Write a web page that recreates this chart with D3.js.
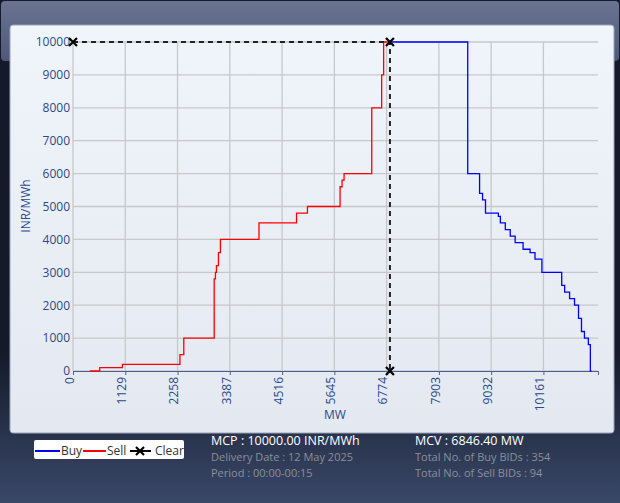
<!DOCTYPE html><html><head><meta charset="utf-8">
<script src="https://cdn.jsdelivr.net/npm/d3@7"></script>
<style>body{margin:0;background:#141a2a;font-family:"Open Sans",sans-serif}</style></head><body>
<svg id="c" width="620" height="503"></svg>
<script>
const xTicks=[0,1129,2258,3387,4516,5645,6774,7903,9032,10161];
const yTicks=[0,1000,2000,3000,4000,5000,6000,7000,8000,9000,10000];
const sellMW=[363,577,1068,2286,2310,2393,3034,3050,3077,3098,3141,3184,3205,4017,4829,5064,5769,5812,5855,6453,6667,6710,6846];
const sellP=[0,100,200,200,500,1000,1000,2800,3000,3200,3600,4000,4000,4500,4800,5000,5600,5800,6000,8000,9000,10000,10000];
const buyMW=[6846,8526,8782,8846,8910,9188,9231,9338,9444,9551,9722,9872,9979,10128,10235,10556,10620,10726,10833,10919,10983,11047,11132,11175,11197];
const buyP=[10000,6000,5400,5200,4800,4700,4500,4300,4100,3900,3700,3600,3400,3000,3000,2600,2400,2200,2000,1600,1200,1000,800,0,0];
const clearMW=[0,6846,6846], clearP=[10000,10000,0];
const svg=d3.select("#c");
const defs=svg.append("defs");
const g1=defs.append("linearGradient").attr("id","top").attr("x1",0).attr("y1",0).attr("x2",0).attr("y2",1);
g1.append("stop").attr("offset",0).attr("stop-color","#6a7390");g1.append("stop").attr("offset",1).attr("stop-color","#4f5878");
const g2=defs.append("linearGradient").attr("id","pan").attr("x1",0).attr("y1",0).attr("x2",0).attr("y2",1);
g2.append("stop").attr("offset",0).attr("stop-color","#f0f4fb");g2.append("stop").attr("offset",1).attr("stop-color","#e4e8f0");
const g3=defs.append("linearGradient").attr("id","bot").attr("x1",0).attr("y1",0).attr("x2",0).attr("y2",1);
g3.append("stop").attr("offset",0).attr("stop-color","#141a2a");g3.append("stop").attr("offset",0.7).attr("stop-color","#141a2a");g3.append("stop").attr("offset",1).attr("stop-color","#3a4868");
svg.append("rect").attr("x",0).attr("y",0).attr("width",620).attr("height",503).attr("fill","url(#bot)");
svg.append("rect").attr("x",1).attr("y",1).attr("width",618).attr("height",60).attr("fill","url(#top)").attr("rx",4);
svg.append("rect").attr("x",10).attr("y",25).attr("width",604).attr("height",408).attr("fill","url(#pan)").attr("rx",3).attr("stroke","#9aa3b8");
const x=d3.scaleLinear().domain([0,11340]).range([73,598]);
const y=d3.scaleLinear().domain([0,10000]).range([371,42]);
const grid=svg.append("g").attr("stroke","#c8c8c8").attr("stroke-width",1.3);
xTicks.forEach(t=>grid.append("line").attr("x1",x(t)).attr("x2",x(t)).attr("y1",y(10000)).attr("y2",y(0)));
yTicks.forEach(t=>grid.append("line").attr("x1",x(0)).attr("x2",598).attr("y1",y(t)).attr("y2",y(t)));
const ax=svg.append("g").attr("transform","translate(0,371)").call(d3.axisBottom(x).tickValues(xTicks).tickSize(4).tickFormat(d3.format("d")));
ax.selectAll("text").attr("transform","rotate(-90)").attr("text-anchor","end").attr("x",-6).attr("y",-4).attr("dy","0.35em");
const ay=svg.append("g").attr("transform","translate(73,0)").call(d3.axisLeft(y).tickValues(yTicks).tickSize(0).tickFormat(d3.format("d")));
ay.select(".domain").remove();
[ax,ay].forEach(a=>{a.selectAll("text").attr("fill","#2a4a8a").attr("font-size",12).attr("font-family","Open Sans");a.selectAll("line,path").attr("stroke","#4a5f90");});
ay.selectAll("text").attr("x",-3);
svg.append("text").attr("x",335).attr("y",419).attr("text-anchor","middle").attr("fill","#2a4a8a").attr("font-size",12).text("MW");
svg.append("text").attr("transform","translate(30,206) rotate(-90)").attr("text-anchor","middle").attr("fill","#2a4a8a").attr("font-size",12).text("INR/MWh");
const line=d3.line().x(d=>x(d[0])).y(d=>y(d[1])).curve(d3.curveStepAfter);
svg.append("path").attr("d",line(sellMW.map((m,i)=>[m,sellP[i]]))).attr("fill","none").attr("stroke","#ff0000").attr("stroke-width",1.3);
svg.append("path").attr("d",line(buyMW.map((m,i)=>[m,buyP[i]]))).attr("fill","none").attr("stroke","#0000ff").attr("stroke-width",1.3);
const cl=d3.line().x(d=>x(d[0])).y(d=>y(d[1]));
svg.append("path").attr("d",cl(clearMW.map((m,i)=>[m,clearP[i]]))).attr("fill","none").attr("stroke","#222").attr("stroke-width",2).attr("stroke-dasharray","5,4");
clearMW.forEach((m,i)=>{const cx=x(m),cy=y(clearP[i]);svg.append("path").attr("d",`M${cx-4},${cy-4}L${cx+4},${cy+4}M${cx-4},${cy+4}L${cx+4},${cy-4}`).attr("stroke","#000").attr("stroke-width",2.2);});
const lg=svg.append("g");
lg.append("rect").attr("x",34).attr("y",440).attr("width",150).attr("height",19).attr("rx",2).attr("fill","#fff");
lg.append("line").attr("x1",35).attr("x2",60).attr("y1",451).attr("y2",451).attr("stroke","#0000ff").attr("stroke-width",2);
lg.append("text").attr("x",61).attr("y",455).attr("font-size",12).attr("fill","#333").text("Buy");
lg.append("line").attr("x1",83).attr("x2",106).attr("y1",451).attr("y2",451).attr("stroke","#ff0000").attr("stroke-width",2);
lg.append("text").attr("x",107).attr("y",455).attr("font-size",12).attr("fill","#333").text("Sell");
lg.append("line").attr("x1",130).attr("x2",151).attr("y1",451).attr("y2",451).attr("stroke","#000").attr("stroke-width",2);
lg.append("path").attr("d","M136,447L144,455M136,455L144,447").attr("stroke","#000").attr("stroke-width",2.2);
lg.append("text").attr("x",155).attr("y",455).attr("font-size",12).attr("fill","#333").text("Clear");
const info=[[211,445,"MCP : 10000.00 INR/MWh","#fff",12.5],[211,461,"Delivery Date : 12 May 2025","#8a8f9c",11],[211,477,"Period :  00:00-00:15","#8a8f9c",11],
[415,445,"MCV : 6846.40 MW","#fff",12.5],[415,461,"Total No. of Buy BIDs : 354","#8a8f9c",11],[415,477,"Total No. of Sell BIDs : 94","#8a8f9c",11]];
info.forEach(d=>svg.append("text").attr("x",d[0]).attr("y",d[1]).attr("fill",d[3]).attr("font-size",d[4]).text(d[2]));
</script></body></html>
